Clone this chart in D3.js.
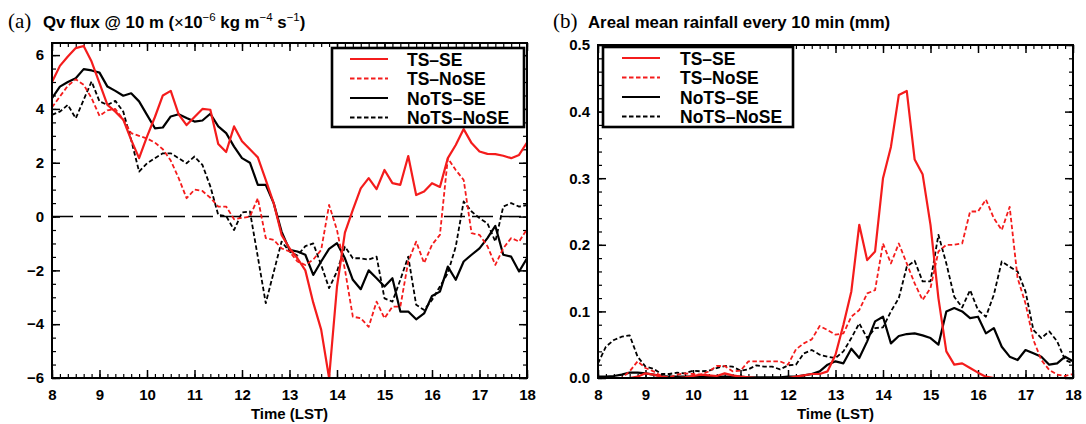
<!DOCTYPE html>
<html>
<head>
<meta charset="utf-8">
<script src="https://cdn.jsdelivr.net/npm/d3@7"></script>
<style>
  html, body { margin: 0; padding: 0; background: #fff; }
  svg { display: block; }
  text { font-family: "Liberation Sans", Arial, sans-serif; }
</style>
</head>
<body>
<svg id="chart" width="1086" height="424"></svg>
<script>
// ---------- data ----------
const times = ["08:00","08:10","08:20","08:30","08:40","08:50","09:00","09:10","09:20","09:30","09:40","09:50",
"10:00","10:10","10:20","10:30","10:40","10:50","11:00","11:10","11:20","11:30","11:40","11:50",
"12:00","12:10","12:20","12:30","12:40","12:50","13:00","13:10","13:20","13:30","13:40","13:50",
"14:00","14:10","14:20","14:30","14:40","14:50","15:00","15:10","15:20","15:30","15:40","15:50",
"16:00","16:10","16:20","16:30","16:40","16:50","17:00","17:10","17:20","17:30","17:40","17:50","18:00"];

const seriesNames = ["TS\u2013SE", "TS\u2013NoSE", "NoTS\u2013SE", "NoTS\u2013NoSE"];
const seriesColors = ["#f41c1c", "#f41c1c", "#000000", "#000000"];
const seriesDashed = [false, true, false, true];

// (a) Qv flux @ 10 m
const qvTS_SE = [5.0,5.6,5.95,6.26,6.34,5.76,4.96,4.15,3.9,3.6,
  2.85,2.17,2.97,3.7,4.5,4.67,3.8,3.4,3.7,4.0,
  3.97,2.7,2.4,3.35,2.8,2.5,2.2,1.36,0.5,-0.68,
  -1.18,-1.55,-2.0,-3.2,-4.2,-6.0,-2.6,-0.6,0.25,1.05,
  1.43,1.02,1.73,1.24,1.18,2.25,0.8,0.93,1.24,1.1,
  2.17,2.66,3.25,2.73,2.42,2.33,2.32,2.26,2.17,2.29,2.75];
const qvTS_NoSE = [4.06,4.46,4.86,5.1,4.9,4.4,3.74,3.95,4.0,3.6,
  3.1,3.0,2.9,2.75,2.5,2.08,1.43,0.68,1.0,0.95,
  0.7,0.37,0.37,-0.1,-0.05,0.0,0.68,-0.8,-0.87,-1.18,
  -1.3,-1.67,-1.8,-1.6,-1.24,0.43,-0.5,-1.97,-3.72,-3.78,
  -4.1,-3.16,-3.78,-3.35,-3.35,-1.67,-0.93,-1.73,-1.05,-0.68,
  2.17,1.73,1.36,-0.62,-0.68,-1.1,-1.8,-1.18,-0.8,-0.93,-0.47];
const qvNoTS_SE = [4.4,4.83,5.0,5.14,5.48,5.43,5.35,4.83,4.67,4.49,
  4.58,4.28,3.78,3.28,3.31,3.72,3.8,3.66,3.53,3.57,
  3.82,3.35,3.1,2.6,2.17,2.0,1.18,1.18,0.5,-0.56,
  -1.24,-1.3,-1.42,-2.17,-1.67,-1.2,-0.99,-1.55,-2.35,-2.7,
  -2.0,-2.29,-2.6,-2.29,-3.53,-3.53,-3.82,-3.6,-2.95,-2.79,
  -1.86,-2.35,-1.67,-1.42,-1.18,-0.8,-0.35,-1.42,-1.49,-2.04,-1.55];
const qvNoTS_NoSE = [3.78,3.9,4.15,3.65,4.34,5.02,4.28,4.15,4.3,3.9,
  2.85,1.67,1.98,2.17,2.35,2.35,2.17,1.98,2.23,1.92,
  1.12,0.06,0.02,-0.5,0.15,0.19,-1.5,-3.22,-2.07,-0.93,
  -1.3,-1.45,-1.1,-1.0,-1.8,-2.66,-2.04,-1.12,-1.55,-1.55,
  -1.6,-1.49,-3.04,-3.16,-2.35,-1.49,-3.28,-3.47,-3.1,-2.6,
  -2.1,-1.12,0.56,0.19,-0.06,-0.25,-0.93,0.37,0.5,0.37,0.43];

// (b) Areal mean rainfall every 10 min (mm)
const rainTS_SE = [0,0,0,0,0,0.002,0.007,0.005,0.002,0,
  0,0.001,0.003,0.005,0.004,0.003,0.007,0.004,0.002,0.001,
  0,0,0,0,0,0.002,0.004,0.006,0.006,0.01,
  0.035,0.08,0.13,0.23,0.177,0.19,0.30,0.347,0.425,0.431,
  0.328,0.306,0.23,0.12,0.04,0.02,0.022,0.015,0.008,0.002,
  0,0,0,0,0,0,0,0,0,0,0];
const rainTS_NoSE = [0,0,0,0,0.01,0.025,0.015,0.01,0.003,0.001,
  0.005,0.007,0.006,0.005,0.01,0.018,0.018,0.01,0.011,0.025,
  0.025,0.025,0.025,0.025,0.02,0.043,0.052,0.058,0.078,0.072,
  0.065,0.067,0.092,0.102,0.127,0.132,0.202,0.172,0.202,0.172,
  0.142,0.117,0.135,0.19,0.2,0.2,0.202,0.25,0.25,0.268,
  0.24,0.222,0.257,0.15,0.112,0.057,0.027,0.012,0.005,0.003,0.006];
const rainNoTS_SE = [0.002,0.002,0.003,0.005,0.008,0.008,0.007,0.005,0.003,0.002,
  0.002,0.002,0.002,0.002,0.002,0.002,0.002,0.002,0.002,0.001,
  0.001,0.001,0.001,0.001,0.002,0.002,0.004,0.006,0.01,0.02,
  0.025,0.022,0.044,0.03,0.055,0.085,0.092,0.052,0.063,0.066,
  0.067,0.064,0.06,0.05,0.1,0.105,0.1,0.09,0.092,0.067,
  0.075,0.047,0.032,0.027,0.042,0.037,0.032,0.02,0.022,0.032,0.025];
const rainNoTS_NoSE = [0.022,0.047,0.057,0.062,0.064,0.032,0.017,0.014,0.006,0.006,
  0.008,0.007,0.011,0.01,0.011,0.015,0.018,0.017,0.011,0.013,
  0.019,0.017,0.017,0.013,0.019,0.02,0.037,0.042,0.035,0.032,
  0.03,0.04,0.06,0.082,0.06,0.075,0.076,0.1,0.12,0.167,
  0.176,0.145,0.145,0.215,0.172,0.122,0.106,0.132,0.102,0.092,
  0.125,0.175,0.167,0.16,0.13,0.072,0.06,0.07,0.055,0.027,0.022];

const xTicks = [8,9,10,11,12,13,14,15,16,17,18];
const yTicksA = [-6,-4,-2,0,2,4,6];
const yTicksB = [0,0.1,0.2,0.3,0.4,0.5];

// ---------- drawing ----------
const svg = d3.select("#chart");
const toHour = s => { const [h, m] = s.split(":").map(Number); return h + m / 60; };
const hours = times.map(toHour);

function panel(opts) {
  const { left, right, top, bottom, yDomain, yTicks, yMinorStep, yFmt, series, zeroLine, legendBox } = opts;
  const g = svg.append("g");
  const x = d3.scaleLinear().domain([8, 18]).range([left, right]);
  const y = d3.scaleLinear().domain(yDomain).range([bottom, top]);

  const clipId = "clip" + left;
  svg.append("clipPath").attr("id", clipId).append("rect")
    .attr("x", left).attr("y", top).attr("width", right - left).attr("height", bottom - top);

  const xMinor = d3.range(8, 18 + 1e-9, 1 / 6);
  const yMinor = d3.range(yDomain[0] < 0 ? -6 : 0, yDomain[1] + 1e-9, yMinorStep);

  const axes = [
    [d3.axisBottom(x).tickValues(xMinor), `translate(0,${bottom})`],
    [d3.axisTop(x).tickValues(xMinor), `translate(0,${top})`],
    [d3.axisLeft(y).tickValues(yMinor), `translate(${left},0)`],
    [d3.axisRight(y).tickValues(yMinor), `translate(${right},0)`]
  ];
  axes.forEach(([ax, tr]) => {
    const a = g.append("g").attr("transform", tr)
      .call(ax.tickSize(-4).tickFormat(""));
    a.select(".domain").remove();
    a.selectAll("line").attr("stroke", "#000").attr("stroke-width", 1.2);
  });
  const xb = g.append("g").attr("transform", `translate(0,${bottom})`)
    .call(d3.axisBottom(x).tickValues(xTicks).tickSize(-8).tickPadding(11).tickFormat(d3.format("d")));
  const xt = g.append("g").attr("transform", `translate(0,${top})`)
    .call(d3.axisTop(x).tickValues(xTicks).tickSize(-8).tickFormat(""));
  const yl = g.append("g").attr("transform", `translate(${left},0)`)
    .call(d3.axisLeft(y).tickValues(yTicks).tickSize(-8).tickPadding(8).tickFormat(yFmt));
  const yr = g.append("g").attr("transform", `translate(${right},0)`)
    .call(d3.axisRight(y).tickValues(yTicks).tickSize(-8).tickFormat(""));
  [xb, xt, yl, yr].forEach(a => {
    a.select(".domain").remove();
    a.selectAll("line").attr("stroke", "#000").attr("stroke-width", 1.5);
    a.selectAll("text").attr("fill", "#000").style("font-size", "15px").style("font-weight", "bold")
      .style("font-family", "'Liberation Sans', Arial, sans-serif");
  });

  if (zeroLine) {
    g.append("line").attr("x1", left).attr("x2", right).attr("y1", y(0)).attr("y2", y(0))
      .attr("stroke", "#000").attr("stroke-width", 1.6).attr("stroke-dasharray", "21,7");
  }

  const line = d3.line().x((d, i) => x(hours[i])).y(d => y(d));
  const plotG = g.append("g").attr("clip-path", `url(#${clipId})`);
  const order = [3, 2, 1, 0];
  order.forEach(k => {
    plotG.append("path").datum(series[k]).attr("d", line)
      .attr("fill", "none").attr("stroke", seriesColors[k])
      .attr("stroke-width", seriesDashed[k] ? 1.8 : 2.2)
      .attr("stroke-linejoin", "round")
      .attr("stroke-dasharray", seriesDashed[k] ? "4.5,2.5" : null);
  });

  g.append("rect").attr("x", left).attr("y", top).attr("width", right - left).attr("height", bottom - top)
    .attr("fill", "none").attr("stroke", "#000").attr("stroke-width", 2);

  const lb = legendBox;
  const lg = g.append("g");
  lg.append("rect").attr("x", lb.x).attr("y", lb.y).attr("width", lb.w).attr("height", lb.h)
    .attr("fill", "#fff").attr("stroke", "#000").attr("stroke-width", 2.6);
  seriesNames.forEach((name, k) => {
    const cy = lb.y + 11 + k * 19.5;
    lg.append("line").attr("x1", lb.x + lb.lx).attr("x2", lb.x + lb.lx + 38).attr("y1", cy).attr("y2", cy)
      .attr("stroke", seriesColors[k]).attr("stroke-width", seriesDashed[k] ? 1.8 : 2.2)
      .attr("stroke-dasharray", seriesDashed[k] ? "4.5,2.5" : null);
    lg.append("text").attr("x", lb.x + lb.tx).attr("y", cy + 6.5).text(name)
      .style("font-size", "17.5px").style("font-weight", "bold").attr("fill", "#000");
  });

  g.append("text").attr("x", (left + right) / 2).attr("y", 419).attr("text-anchor", "middle")
    .style("font-size", "15px").style("font-weight", "bold").text("Time (LST)");
  return { x, y };
}

panel({
  left: 52, right: 527, top: 43, bottom: 378, yDomain: [-6, 6.45], yTicks: yTicksA, yMinorStep: 0.5,
  yFmt: d3.format("d"), series: [qvTS_SE, qvTS_NoSE, qvNoTS_SE, qvNoTS_NoSE], zeroLine: true,
  legendBox: { x: 332, y: 48, w: 192, h: 79, lx: 18, tx: 75 }
});
panel({
  left: 598, right: 1073, top: 45, bottom: 378, yDomain: [0, 0.5], yTicks: yTicksB, yMinorStep: 0.02,
  yFmt: d3.format(".1f"), series: [rainTS_SE, rainTS_NoSE, rainNoTS_SE, rainNoTS_NoSE], zeroLine: false,
  legendBox: { x: 603, y: 47, w: 190, h: 80, lx: 19, tx: 77 }
});

function title(x0, letter, x1, parts) {
  svg.append("text").attr("x", x0).attr("y", 28).text(letter)
    .style("font-family", "'Liberation Serif', 'DejaVu Serif', serif").style("font-size", "21px");
  const t = svg.append("text").attr("x", x1).attr("y", 28)
    .style("font-size", "16.8px").style("font-weight", "bold");
  parts.forEach(p => {
    const s = t.append("tspan").text(p.t);
    if (p.sup) s.attr("dy", p.dy).style("font-size", "11.5px").style("font-weight", "normal");
    else if (p.dy) s.attr("dy", p.dy);
    if (p.normal) s.style("font-weight", "normal");
  });
}
title(8, "(a)", 43, [
  { t: "Qv flux @ 10 m (" },
  { t: "\u00d7", normal: true },
  { t: "10" },
  { t: "\u22126", sup: true, dy: -7 },
  { t: " kg m", dy: 7 },
  { t: "\u22124", sup: true, dy: -7 },
  { t: " s", dy: 7 },
  { t: "\u22121", sup: true, dy: -7 },
  { t: ")", dy: 7 }
]);
title(553, "(b)", 588, [{ t: "Areal mean rainfall every 10 min (mm)" }]);
</script>
</body>
</html>
